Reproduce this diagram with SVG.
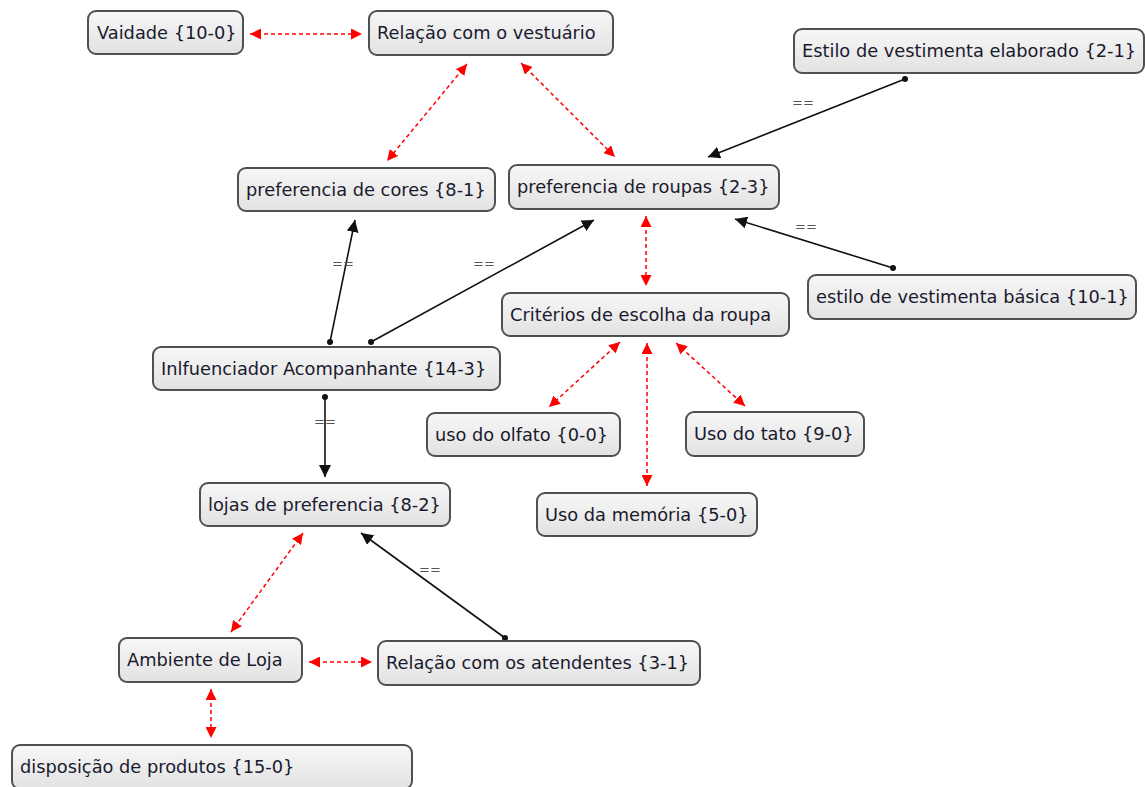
<svg xmlns="http://www.w3.org/2000/svg" width="1145" height="787" viewBox="0 0 1145 787">
<style>
.n rect{fill:url(#g);stroke:#505050;stroke-width:2}
.n text{font-family:"DejaVu Sans",sans-serif;font-size:17.8px;fill:#1a1a2e}
.r{stroke:#ff0000;stroke-width:1.5;stroke-dasharray:4,3;fill:none;marker-start:url(#ra);marker-end:url(#ra)}
.b{stroke:#111;stroke-width:1.6;fill:none;marker-start:url(#dot);marker-end:url(#ba)}
.lb{font-family:"DejaVu Sans",sans-serif;font-size:13px;fill:#555;text-anchor:middle}
</style>
<defs>
<linearGradient id="g" x1="0" y1="0" x2="0" y2="1"><stop offset="0" stop-color="#f7f7f7"/><stop offset="1" stop-color="#e2e2e2"/></linearGradient>
<marker id="ra" viewBox="0 0 10 10" refX="10" refY="5" markerWidth="11" markerHeight="11" markerUnits="userSpaceOnUse" orient="auto-start-reverse"><path d="M0,0L10,5L0,10z" fill="#ff0000"/></marker>
<marker id="ba" viewBox="0 0 10 10" refX="10" refY="5" markerWidth="12" markerHeight="12" markerUnits="userSpaceOnUse" orient="auto"><path d="M0,0L10,5L0,10z" fill="#111"/></marker>
<marker id="dot" viewBox="0 0 10 10" refX="5" refY="5" markerWidth="6" markerHeight="6" markerUnits="userSpaceOnUse"><circle cx="5" cy="5" r="5" fill="#111"/></marker>
</defs>
<rect width="1145" height="787" fill="#fff"/>
<g id="connectors">
<line class="r" x1="250" y1="34" x2="362" y2="34"/>
<line class="r" x1="467" y1="64" x2="387" y2="161"/>
<line class="r" x1="521" y1="63" x2="615" y2="157"/>
<line class="r" x1="646" y1="216" x2="646" y2="286"/>
<line class="r" x1="620" y1="342" x2="549" y2="407"/>
<line class="r" x1="647" y1="343" x2="647" y2="486"/>
<line class="r" x1="676" y1="343" x2="745" y2="406"/>
<line class="r" x1="303" y1="533" x2="231" y2="632"/>
<line class="r" x1="309" y1="662" x2="372" y2="662"/>
<line class="r" x1="211" y1="689" x2="211" y2="738"/>
<line class="b" x1="905" y1="79" x2="708" y2="157"/>
<line class="b" x1="893" y1="268" x2="735" y2="219"/>
<line class="b" x1="330" y1="342" x2="355" y2="220"/>
<line class="b" x1="371" y1="342" x2="594" y2="220"/>
<line class="b" x1="325" y1="397" x2="325" y2="477"/>
<line class="b" x1="505" y1="638" x2="361" y2="533"/>
<text class="lb" x="803" y="107">==</text>
<text class="lb" x="806" y="231">==</text>
<text class="lb" x="343" y="268">==</text>
<text class="lb" x="484" y="268">==</text>
<text class="lb" x="325" y="426">==</text>
<text class="lb" x="430" y="574">==</text>
</g>
<g id="vaidade" class="n"><rect x="88" y="11" width="155" height="43" rx="8"/><text x="97" y="39">Vaidade {10-0}</text></g>
<g id="relacao-vestuario" class="n"><rect x="369" y="11" width="244" height="44" rx="8"/><text x="377" y="39">Relação com o vestuário</text></g>
<g id="estilo-elaborado" class="n"><rect x="794" y="29" width="350" height="44" rx="8"/><text x="802" y="57">Estilo de vestimenta elaborado {2-1}</text></g>
<g id="pref-cores" class="n"><rect x="238" y="168" width="257" height="43" rx="8"/><text x="246" y="196">preferencia de cores {8-1}</text></g>
<g id="pref-roupas" class="n"><rect x="509" y="165" width="270" height="44" rx="8"/><text x="517" y="193">preferencia de roupas {2-3}</text></g>
<g id="estilo-basica" class="n"><rect x="808" y="275" width="328" height="44" rx="8"/><text x="816" y="303">estilo de vestimenta básica {10-1}</text></g>
<g id="criterios" class="n"><rect x="502" y="293" width="287" height="43" rx="8"/><text x="510" y="321">Critérios de escolha da roupa</text></g>
<g id="influenciador" class="n"><rect x="153" y="347" width="347" height="43" rx="8"/><text x="161" y="375">Inlfuenciador Acompanhante {14-3}</text></g>
<g id="olfato" class="n"><rect x="427" y="413" width="193" height="43" rx="8"/><text x="435" y="441">uso do olfato {0-0}</text></g>
<g id="tato" class="n"><rect x="686" y="412" width="178" height="44" rx="8"/><text x="694" y="440">Uso do tato {9-0}</text></g>
<g id="memoria" class="n"><rect x="537" y="493" width="220" height="43" rx="8"/><text x="545" y="521">Uso da memória {5-0}</text></g>
<g id="lojas" class="n"><rect x="200" y="483" width="250" height="43" rx="8"/><text x="208" y="511">lojas de preferencia {8-2}</text></g>
<g id="ambiente" class="n"><rect x="119" y="638" width="183" height="44" rx="8"/><text x="127" y="666">Ambiente de Loja</text></g>
<g id="atendentes" class="n"><rect x="378" y="641" width="322" height="44" rx="8"/><text x="386" y="669">Relação com os atendentes {3-1}</text></g>
<g id="disposicao" class="n"><rect x="12" y="745" width="400" height="44" rx="8"/><text x="20" y="773">disposição de produtos {15-0}</text></g>
</svg>
